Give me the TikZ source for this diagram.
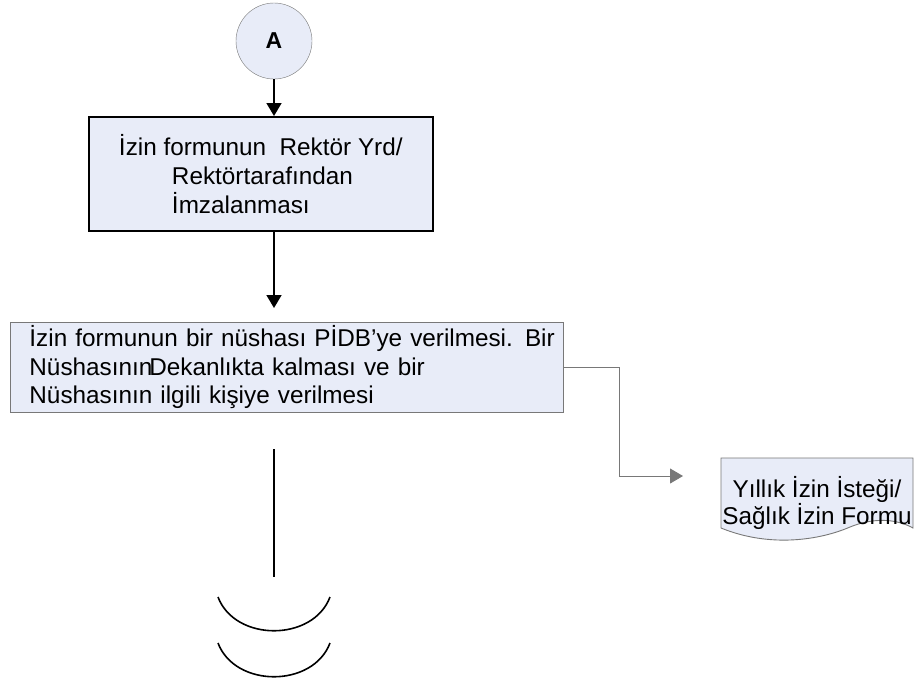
\documentclass[tikz,border=0pt]{standalone}
\usepackage{fontspec}
\setmainfont{Liberation Sans}
\usetikzlibrary{arrows.meta}
\definecolor{boxfill}{RGB}{232,236,248}
\definecolor{edgegray}{RGB}{120,120,120}
\begin{document}
\begin{tikzpicture}[
    x=1pt, y=-1pt,
    font=\fontsize{24.3}{28.5}\selectfont,
    connector/.style={circle, draw=edgegray, fill=boxfill, minimum size=76pt, inner sep=0pt, font=\fontsize{23}{24}\selectfont\bfseries},
    box/.style={rectangle, fill=boxfill, inner sep=0pt, anchor=north west},
    arrow/.style={-{Triangle[width=15pt,length=13pt]}, line width=1.6pt},
    elbow/.style={-{Triangle[width=15pt,length=13pt]}, draw=edgegray, line width=0.9pt},
    halfmoon/.style={line width=1.6pt}
]
    \useasboundingbox (0,0) rectangle (917,681);

    % Connector
    \node[connector] (a) at (274,41) {A};

    % Steps
    \node[box, draw, line width=1.6pt, minimum width=344pt, minimum height=114pt, align=left, font=\fontsize{24.3}{29}\selectfont] (yetki) at (88,116)
        {İzin formunun \ Rektör Yrd/\\\hspace*{53pt}Rektörtarafından\\\hspace*{53pt}İmzalanması};
    \node[box, draw=edgegray, line width=0.9pt, text width=553pt, minimum height=90pt, align=left] (dagitim) at (10,322)
        {\hspace*{19pt}İzin formunun bir nüshası PİDB’ye verilmesi. Bir\\\hspace*{19pt}Nüshasının\hspace{-3pt}Dekanlıkta kalması ve bir\\\hspace*{19pt}Nüshasının ilgili kişiye verilmesi};

    % Document
    \draw[draw=edgegray, line width=0.9pt, fill=boxfill] (721,458) -- (913,458) -- (913,528)
        .. controls (895,518) and (872,518) .. (850,527)
        .. controls (820,540) and (770,548) .. (721,528) -- cycle;
    \node[align=center, font=\fontsize{24.3}{27}\selectfont] (form) at (817,503) {Yıllık İzin İsteği/\\Sağlık İzin Formu};

    % Ends
    \coordinate (ok2) at (274,308);
    \coordinate (hedef) at (683,476);
    \coordinate (hat1) at (274,449);
    \coordinate (hat2) at (274,577);

    % Arrows
    \draw[arrow] (a.south) -- (a.south |- yetki.north);
    \draw[arrow] (yetki.south -| a.center) -- (ok2);
    \draw[elbow] (dagitim.east) -- ++(56,0) |- (hedef);
    \draw[line width=1.6pt] (hat1) -- (hat2);

    % Off-page marks
    \foreach \dy in {0,46}
        \draw[halfmoon] (218,597+\dy) .. controls (235,642+\dy) and (313,642+\dy) .. (330,597+\dy);
\end{tikzpicture}
\end{document}
